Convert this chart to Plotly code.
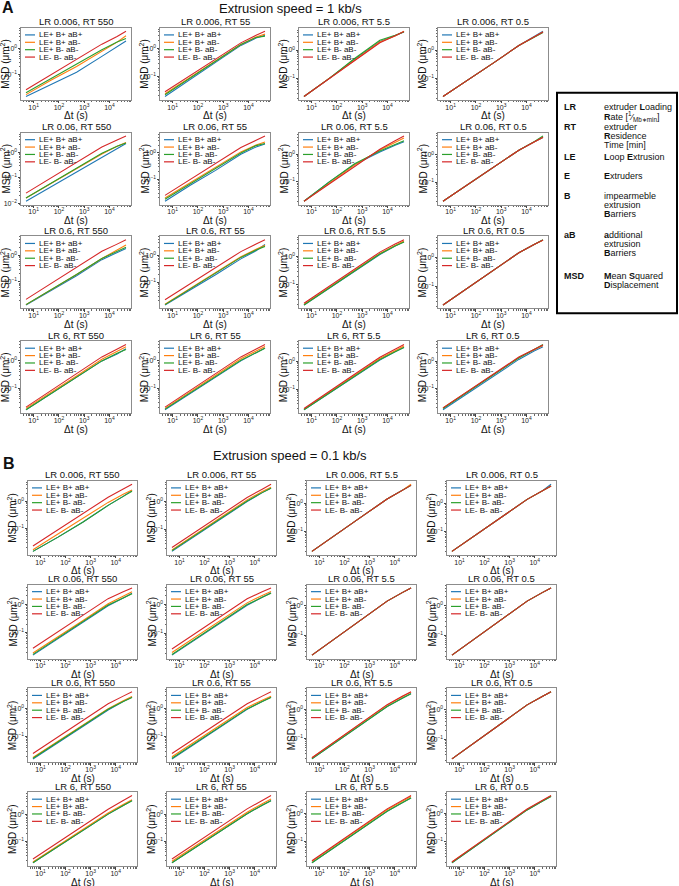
import math
import plotly.graph_objects as go

W, H = 679, 886
FONT = "Liberation Sans, Arial, sans-serif"

# ---------------- data ----------------
T = [5, 50, 500, 5000, 20000, 45000]          # lag time Δt (s)
LR_VALUES = ["0.006", "0.06", "0.6", "6"]      # rows
RT_VALUES = ["550", "55", "5.5", "0.5"]        # columns
SERIES = ["LE+ B+ aB+", "LE+ B+ aB-", "LE+ B- aB-", "LE- B- aB-"]
COLORS = ["#1f77b4", "#ff7f0e", "#2ca02c", "#d62728"]
PANEL_LABELS = ["A", "B"]
PANEL_TITLES = ["Extrusion speed = 1 kb/s", "Extrusion speed = 0.1 kb/s"]
X_LABEL = "\u0394t (s)"
Y_LABEL = "MSD (\u03bcm<sup>2</sup>)"
X_TICKVALS = [10, 100, 1000, 10000]
X_TICKTEXT = ["10<sup>1</sup>", "10<sup>2</sup>", "10<sup>3</sup>", "10<sup>4</sup>"]
Y_TICKVALS = [0.01, 0.1, 1, 10]
Y_TICKTEXT = ["10<sup>\u22122</sup>", "10<sup>\u22121</sup>", "10<sup>0</sup>", "10<sup>1</sup>"]

# Panel A (1 kb/s), 16 subplots row-major (LR rows x RT columns)
A_BLUE = [
    [0.0135, 0.04, 0.12, 0.5, 1.2, 2.0], [0.019, 0.08, 0.32, 1.3, 2.4, 3.0],
    [0.023, 0.1, 0.47, 2.0, 3.2, 4.4], [0.023, 0.09, 0.36, 1.5, 3.0, 4.8],
    [0.012, 0.045, 0.16, 0.6, 1.4, 2.2], [0.015, 0.06, 0.22, 0.9, 1.7, 2.2],
    [0.02, 0.1, 0.42, 1.2, 2.1, 2.8], [0.02, 0.085, 0.35, 1.5, 3.0, 4.4],
    [0.0135, 0.047, 0.17, 0.68, 1.3, 1.8], [0.014, 0.05, 0.19, 0.75, 1.5, 2.6],
    [0.019, 0.075, 0.3, 1.2, 2.4, 3.4], [0.022, 0.09, 0.36, 1.45, 2.8, 4.0],
    [0.016, 0.062, 0.25, 1.0, 1.8, 2.8], [0.016, 0.064, 0.25, 1.0, 2.0, 3.0],
    [0.018, 0.07, 0.28, 1.1, 2.2, 3.2], [0.017, 0.07, 0.28, 1.15, 2.3, 3.3],
]
A_ORANGE = [
    [0.016, 0.06, 0.2, 0.8, 1.8, 3.2], [0.024, 0.095, 0.37, 1.4, 2.6, 3.3],
    [0.023, 0.1, 0.45, 1.9, 3.1, 4.6], [0.023, 0.09, 0.36, 1.5, 3.0, 4.5],
    [0.016, 0.06, 0.22, 0.85, 1.7, 2.4], [0.02, 0.075, 0.28, 1.1, 2.0, 2.6],
    [0.02, 0.09, 0.4, 1.4, 2.6, 3.8], [0.02, 0.085, 0.35, 1.5, 3.0, 4.5],
    [0.014, 0.05, 0.19, 0.75, 1.5, 2.4], [0.015, 0.06, 0.23, 0.9, 1.7, 2.4],
    [0.02, 0.08, 0.32, 1.3, 2.5, 3.6], [0.022, 0.09, 0.36, 1.45, 2.8, 3.9],
    [0.018, 0.07, 0.28, 1.15, 2.2, 3.3], [0.018, 0.072, 0.29, 1.2, 2.3, 3.4],
    [0.019, 0.078, 0.31, 1.25, 2.4, 3.5], [0.02, 0.082, 0.33, 1.35, 2.6, 3.7],
]
A_GREEN = [
    [0.019, 0.07, 0.25, 0.9, 1.8, 2.5], [0.022, 0.09, 0.35, 1.4, 2.5, 2.8],
    [0.023, 0.1, 0.5, 2.2, 3.3, 4.3], [0.023, 0.09, 0.36, 1.5, 2.9, 4.3],
    [0.016, 0.06, 0.23, 0.9, 1.7, 2.3], [0.018, 0.07, 0.26, 1.0, 1.9, 2.3],
    [0.02, 0.1, 0.45, 1.3, 2.2, 3.0], [0.02, 0.085, 0.35, 1.5, 3.1, 5.0],
    [0.014, 0.05, 0.19, 0.75, 1.4, 2.0], [0.0145, 0.055, 0.21, 0.85, 1.6, 2.2],
    [0.019, 0.078, 0.31, 1.25, 2.4, 3.3], [0.022, 0.09, 0.36, 1.45, 2.8, 4.1],
    [0.016, 0.062, 0.25, 1.0, 1.9, 2.6], [0.017, 0.066, 0.26, 1.05, 2.0, 2.9],
    [0.018, 0.072, 0.29, 1.15, 2.2, 3.1], [0.019, 0.08, 0.32, 1.3, 2.6, 4.0],
]
A_RED = [
    [0.025, 0.1, 0.4, 1.5, 3.0, 4.8], [0.028, 0.11, 0.42, 1.6, 3.0, 4.2],
    [0.023, 0.1, 0.42, 1.8, 3.2, 4.5], [0.023, 0.09, 0.36, 1.5, 3.0, 4.5],
    [0.025, 0.1, 0.4, 1.6, 3.0, 4.3], [0.025, 0.1, 0.4, 1.6, 3.0, 4.4],
    [0.02, 0.085, 0.35, 1.5, 3.0, 4.5], [0.02, 0.085, 0.35, 1.5, 3.0, 4.5],
    [0.022, 0.09, 0.35, 1.4, 2.6, 3.8], [0.022, 0.09, 0.35, 1.4, 2.7, 3.9],
    [0.022, 0.09, 0.36, 1.45, 2.8, 4.0], [0.022, 0.09, 0.36, 1.45, 2.8, 4.0],
    [0.02, 0.085, 0.34, 1.4, 2.7, 4.0], [0.02, 0.085, 0.34, 1.4, 2.7, 4.0],
    [0.02, 0.085, 0.34, 1.4, 2.7, 4.0], [0.02, 0.085, 0.34, 1.4, 2.7, 3.8],
]

# Panel B (0.1 kb/s)
B_BLUE = [
    [0.014, 0.047, 0.17, 0.7, 1.5, 2.5], [0.016, 0.064, 0.26, 1.0, 2.1, 3.1],
    [0.02, 0.085, 0.34, 1.4, 2.8, 4.3], [0.02, 0.085, 0.34, 1.4, 2.8, 4.8],
    [0.016, 0.06, 0.23, 0.9, 1.7, 2.5], [0.017, 0.065, 0.25, 0.95, 1.8, 2.6],
    [0.022, 0.09, 0.36, 1.45, 2.8, 4.0], [0.022, 0.09, 0.36, 1.45, 2.8, 4.0],
    [0.016, 0.062, 0.23, 0.9, 1.8, 2.6], [0.016, 0.062, 0.24, 0.95, 1.8, 2.6],
    [0.02, 0.08, 0.32, 1.25, 2.4, 3.5], [0.022, 0.09, 0.36, 1.45, 2.8, 4.0],
    [0.016, 0.064, 0.26, 1.05, 2.2, 3.4], [0.016, 0.064, 0.26, 1.05, 2.2, 3.3],
    [0.018, 0.072, 0.29, 1.2, 2.4, 3.6], [0.019, 0.078, 0.32, 1.3, 2.6, 3.9],
]
B_ORANGE = [
    [0.016, 0.06, 0.23, 0.9, 1.8, 2.6], [0.018, 0.072, 0.29, 1.15, 2.3, 3.3],
    [0.02, 0.085, 0.34, 1.4, 2.8, 4.6], [0.02, 0.085, 0.34, 1.4, 2.8, 4.2],
    [0.019, 0.07, 0.27, 1.05, 1.9, 2.8], [0.021, 0.08, 0.3, 1.15, 2.1, 2.9],
    [0.022, 0.09, 0.36, 1.45, 2.8, 4.0], [0.022, 0.09, 0.36, 1.45, 2.8, 4.0],
    [0.018, 0.068, 0.26, 1.0, 1.9, 2.7], [0.019, 0.073, 0.28, 1.1, 2.0, 2.8],
    [0.022, 0.088, 0.35, 1.4, 2.7, 3.9], [0.022, 0.09, 0.36, 1.45, 2.8, 4.0],
    [0.017, 0.068, 0.28, 1.15, 2.4, 3.6], [0.018, 0.072, 0.29, 1.2, 2.5, 3.7],
    [0.02, 0.082, 0.33, 1.35, 2.7, 4.0], [0.02, 0.082, 0.33, 1.35, 2.7, 4.0],
]
B_GREEN = [
    [0.014, 0.047, 0.17, 0.7, 1.5, 2.3], [0.017, 0.068, 0.27, 1.05, 2.1, 3.0],
    [0.02, 0.085, 0.34, 1.4, 2.8, 4.2], [0.02, 0.085, 0.34, 1.4, 2.8, 4.2],
    [0.017, 0.065, 0.25, 0.95, 1.7, 2.4], [0.018, 0.068, 0.26, 1.0, 1.8, 2.5],
    [0.022, 0.09, 0.36, 1.45, 2.8, 4.0], [0.022, 0.09, 0.36, 1.45, 2.8, 4.0],
    [0.017, 0.064, 0.24, 0.95, 1.8, 2.5], [0.017, 0.066, 0.25, 0.98, 1.8, 2.5],
    [0.02, 0.08, 0.32, 1.25, 2.4, 3.4], [0.022, 0.09, 0.36, 1.45, 2.8, 4.0],
    [0.016, 0.064, 0.26, 1.05, 2.2, 3.3], [0.016, 0.064, 0.26, 1.05, 2.2, 3.2],
    [0.018, 0.072, 0.29, 1.2, 2.4, 3.5], [0.019, 0.078, 0.32, 1.3, 2.6, 3.8],
]
B_RED = [
    [0.022, 0.09, 0.36, 1.4, 2.8, 4.2], [0.022, 0.09, 0.36, 1.4, 2.8, 4.2],
    [0.02, 0.085, 0.34, 1.4, 2.8, 4.2], [0.02, 0.085, 0.34, 1.4, 2.8, 4.2],
    [0.028, 0.11, 0.42, 1.6, 2.8, 3.8], [0.028, 0.11, 0.42, 1.6, 2.8, 3.8],
    [0.022, 0.09, 0.36, 1.45, 2.8, 4.0], [0.022, 0.09, 0.36, 1.45, 2.8, 4.0],
    [0.025, 0.1, 0.38, 1.5, 2.8, 4.0], [0.025, 0.1, 0.38, 1.5, 2.8, 4.0],
    [0.022, 0.09, 0.36, 1.45, 2.8, 4.0], [0.022, 0.09, 0.36, 1.45, 2.8, 4.0],
    [0.022, 0.09, 0.38, 1.6, 3.4, 5.2], [0.022, 0.09, 0.38, 1.6, 3.3, 5.0],
    [0.021, 0.086, 0.35, 1.45, 2.9, 4.3], [0.02, 0.085, 0.34, 1.4, 2.8, 4.1],
]

PANEL_SERIES = [
    [A_BLUE, A_ORANGE, A_GREEN, A_RED],
    [B_BLUE, B_ORANGE, B_GREEN, B_RED],
]

# glossary box
GLOSSARY = [
    ("LR", ["extruder <b>L</b>oading", "<b>R</b>ate [<sup>1</sup>\u2044<sub>Mb\u2217min</sub>]"]),
    ("RT", ["extruder", "<b>R</b>esidence", "Time [min]"]),
    ("LE", ["<b>L</b>oop <b>E</b>xtrusion"]),
    ("E", ["<b>E</b>xtruders"]),
    ("B", ["impearmeble", "extrusion", "<b>B</b>arriers"]),
    ("aB", ["<b>a</b>dditional", "extrusion", "<b>B</b>arriers"]),
    ("MSD", ["<b>M</b>ean <b>S</b>quared", "<b>D</b>isplacement"]),
]

# ---------------- layout geometry (pixels) ----------------
PANELS = [
    dict(lefts=[21, 160, 299, 438], width=110, tops=[28, 133, 237, 342], height=72,
         label_xy=(8, 8), title_xy=(290, 9)),
    dict(lefts=[28, 167, 307, 447], width=109, tops=[482, 586, 690, 794], height=74,
         label_xy=(9, 465), title_xy=(290, 457)),
]


def px(x):
    return x / W


def py(y):
    return 1 - y / H


fig = go.Figure()
annotations = []
shapes = []
layout_axes = {}


def note(text, x, y, size, xanchor="center", yanchor="middle", angle=0):
    annotations.append(dict(
        text=text, x=px(x), y=py(y), xref="paper", yref="paper",
        xanchor=xanchor, yanchor=yanchor, showarrow=False, textangle=angle,
        borderpad=0, font=dict(size=size, color="#111", family=FONT)))


k = 0
for p, panel in enumerate(PANELS):
    series = PANEL_SERIES[p]
    for r in range(4):
        for c in range(4):
            k += 1
            idx = r * 4 + c
            left, top = panel["lefts"][c], panel["tops"][r]
            w, h = panel["width"], panel["height"]
            xa = "x" if k == 1 else f"x{k}"
            ya = "y" if k == 1 else f"y{k}"
            allv = []
            for s in range(4):
                vals = series[s][idx]
                allv += vals
                fig.add_trace(go.Scatter(
                    x=T, y=vals, mode="lines", name=SERIES[s],
                    line=dict(color=COLORS[s], width=1.1),
                    xaxis=xa, yaxis=ya, showlegend=False))
            ylo, yhi = math.log10(min(allv)), math.log10(max(allv))
            ypad = 0.05 * (yhi - ylo)
            xlo, xhi = math.log10(min(T)), math.log10(max(T))
            xpad = 0.05 * (xhi - xlo)
            common = dict(
                type="log", showline=True, mirror=True, linecolor="#8c8c8c", linewidth=1,
                ticks="outside", ticklen=2.5, tickwidth=0.8, tickcolor="#444",
                showgrid=False, zeroline=False,
                tickfont=dict(size=7, color="#222", family=FONT),
                minor=dict(ticks="outside", ticklen=1.5, tickwidth=0.6, tickcolor="#666",
                           dtick="D1", showgrid=False),
            )
            layout_axes["xaxis" if k == 1 else f"xaxis{k}"] = dict(
                common, domain=[px(left), px(left + w)], anchor=ya,
                range=[xlo - xpad, xhi + xpad], tickmode="array",
                tickvals=X_TICKVALS, ticktext=X_TICKTEXT, ticklabelstandoff=-2,
            )
            layout_axes["yaxis" if k == 1 else f"yaxis{k}"] = dict(
                common, domain=[py(top + h), py(top)], anchor=xa,
                range=[ylo - ypad, yhi + ypad], tickmode="array",
                tickvals=Y_TICKVALS, ticktext=Y_TICKTEXT, ticklabelstandoff=-1,
            )
            # axis titles and subplot title
            note(X_LABEL, left + w / 2, top + h + 16, 10)
            note(Y_LABEL, left - 16, top + h / 2, 10, angle=-90)
            note(f"LR {LR_VALUES[r]}, RT {RT_VALUES[c]}", left + w / 2, top - 6, 9.5)
            # in-axes legend
            for s in range(4):
                ly = top + 7 + 7.4 * s
                shapes.append(dict(type="line", xref="paper", yref="paper",
                                   x0=px(left + 4), x1=px(left + 14), y0=py(ly), y1=py(ly),
                                   line=dict(color=COLORS[s], width=1.2)))
                note(SERIES[s], left + 17, ly, 8, xanchor="left")
    lx, ly = panel["label_xy"]
    note(f"<b>{PANEL_LABELS[p]}</b>", lx, ly, 16)
    tx, ty = panel["title_xy"]
    note(PANEL_TITLES[p], tx, ty, 13)

# glossary box
shapes.append(dict(type="rect", xref="paper", yref="paper",
                   x0=px(557), x1=px(677), y0=py(93), y1=py(314),
                   line=dict(color="#000", width=2)))
GLOSS_Y = [[107, 117], [127, 136, 145], [157], [176], [196, 205, 214], [236, 245, 254], [277, 286]]
for (key, lines), ys in zip(GLOSSARY, GLOSS_Y):
    note(f"<b>{key}</b>", 563, ys[0], 9, xanchor="left")
    for line, yy in zip(lines, ys):
        note(line, 603, yy, 9, xanchor="left")

fig.update_layout(
    width=W, height=H, margin=dict(l=0, r=0, t=0, b=0),
    paper_bgcolor="white", plot_bgcolor="white",
    font=dict(family=FONT, size=8, color="#111"),
    annotations=annotations, shapes=shapes, showlegend=False,
    **layout_axes,
)

fig.write_html(
    "out.html",
    config={"displayModeBar": False},
    post_script="document.body.style.margin='0';document.body.style.padding='0';"
                "document.body.style.overflow='hidden';",
)
